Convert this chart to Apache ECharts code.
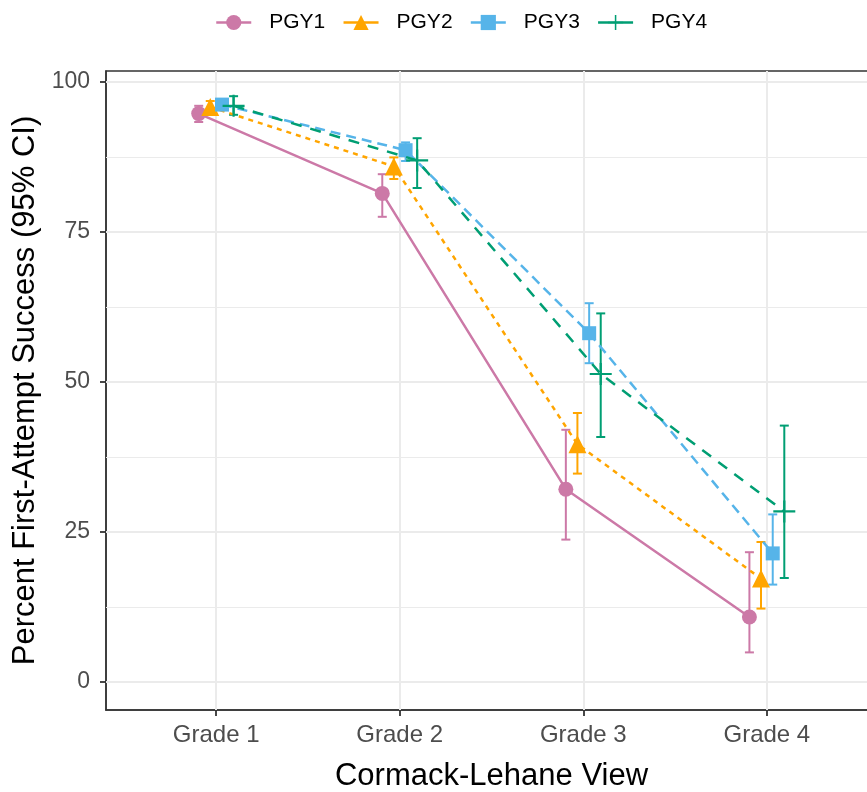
<!DOCTYPE html>
<html>
<head>
<meta charset="utf-8">
<script src="https://cdn.jsdelivr.net/npm/echarts@6/dist/echarts.min.js"></script>
<style>
html,body{margin:0;padding:0;background:#fff;}
#chart{width:867px;height:792px;}
</style>
</head>
<body>
<div id="chart"></div>
<script>
// ---- data ----
const categories = ['Grade 1', 'Grade 2', 'Grade 3', 'Grade 4'];
const groups = ['PGY1', 'PGY2', 'PGY3', 'PGY4'];
const pgy1 = [94.7, 81.4, 32.1, 10.8];
const pgy1Lo = [93.3, 77.5, 23.7, 4.9];
const pgy1Hi = [96.0, 84.6, 42.0, 21.6];
const pgy2 = [95.8, 85.9, 39.6, 17.2];
const pgy2Lo = [94.8, 83.8, 34.7, 12.2];
const pgy2Hi = [96.8, 87.4, 44.8, 23.3];
const pgy3 = [96.2, 88.6, 58.1, 21.4];
const pgy3Lo = [95.4, 86.8, 53.1, 16.2];
const pgy3Hi = [97.0, 89.9, 63.1, 27.9];
const pgy4 = [96.0, 86.9, 51.3, 28.4];
const pgy4Lo = [94.5, 82.3, 40.8, 17.3];
const pgy4Hi = [97.6, 90.6, 61.4, 42.7];
const yTicks = [0, 25, 50, 75, 100];
const yMinor = [12.5, 37.5, 62.5, 87.5];

// ---- styling ----
const values = [pgy1, pgy2, pgy3, pgy4];
const lows = [pgy1Lo, pgy2Lo, pgy3Lo, pgy4Lo];
const highs = [pgy1Hi, pgy2Hi, pgy3Hi, pgy4Hi];
const colors = ['#CC79A7', '#FFA500', '#56B4E9', '#009E73'];
const dodge = [-0.095, -0.032, 0.032, 0.095];
const crossPath = 'path://M0,9H20V11H0Z M9,0H11V20H9Z';
const symbols = ['circle', 'triangle', 'rect', crossPath];
const symbolSizes = [15, 18, 14, 22];
const lineTypes = ['solid', [5, 5], [10, 6], [11, 9]];
const catIdx = categories.map((c, i) => i + 1);

const chart = echarts.init(document.getElementById('chart'), null, {renderer: 'canvas'});

const series = [];
groups.forEach((g, k) => {
  series.push({
    name: g + ' CI',
    type: 'custom',
    z: 2,
    silent: true,
    data: catIdx.map((x, i) => [x + dodge[k], lows[k][i], highs[k][i]]),
    renderItem: function (params, api) {
      const x = api.value(0);
      const top = api.coord([x, api.value(2)]);
      const bot = api.coord([x, api.value(1)]);
      const hw = 4.5;
      const st = {stroke: colors[k], lineWidth: 2, fill: null};
      return {
        type: 'group',
        children: [
          {type: 'line', shape: {x1: top[0], y1: top[1], x2: bot[0], y2: bot[1]}, style: st},
          {type: 'line', shape: {x1: top[0] - hw, y1: top[1], x2: top[0] + hw, y2: top[1]}, style: st},
          {type: 'line', shape: {x1: bot[0] - hw, y1: bot[1], x2: bot[0] + hw, y2: bot[1]}, style: st}
        ]
      };
    }
  });
});

groups.forEach((g, k) => {
  const s = {
    name: g,
    type: 'line',
    z: 3 + k,
    data: catIdx.map((x, i) => [x + dodge[k], values[k][i]]),
    symbol: symbols[k],
    symbolSize: symbolSizes[k],
    showSymbol: true,
    itemStyle: {color: colors[k], borderWidth: 0},
    lineStyle: {color: colors[k], width: 2.5, type: lineTypes[k]},
    emphasis: {disabled: true},
    animation: false
  };
  if (k === 0) {
    const ml = [];
    yMinor.forEach(v => ml.push({yAxis: v, lineStyle: {color: '#ebebeb', width: 1}}));
    yTicks.forEach(v => ml.push({yAxis: v, lineStyle: {color: '#ebebeb', width: 2}}));
    catIdx.forEach(v => ml.push({xAxis: v, lineStyle: {color: '#ebebeb', width: 2}}));
    s.markLine = {
      silent: true,
      z: 1,
      symbol: 'none',
      label: {show: false},
      animation: false,
      lineStyle: {type: 'solid'},
      emphasis: {disabled: true},
      data: ml
    };
  }
  series.push(s);
});

chart.setOption({
  animation: false,
  backgroundColor: '#ffffff',
  textStyle: {fontFamily: 'Liberation Sans, Arial, sans-serif'},
  legend: {
    data: groups,
    left: 215,
    top: 12,
    padding: 0,
    itemWidth: 35,
    itemHeight: 19,
    itemGap: 17,
    lineStyle: {type: 'solid', width: 2.5},
    textStyle: {fontSize: 21, color: '#000000', padding: [0, 0, 0, 13], fontFamily: 'Liberation Sans, Arial, sans-serif'},
    selectedMode: false
  },
  grid: {
    left: 106, top: 71, width: 771, height: 639,
    outerBoundsMode: 'none',
    show: true, borderColor: '#333333', borderWidth: 1.5, backgroundColor: 'transparent',
    containLabel: false
  },
  xAxis: {
    type: 'value',
    min: 0.4, max: 4.6,
    name: 'Cormack-Lehane View',
    nameLocation: 'middle',
    nameGap: 51,
    nameTextStyle: {fontSize: 31, color: '#000000'},
    axisLine: {show: true, onZero: false, lineStyle: {color: '#333333', width: 1.5}},
    axisTick: {show: true, customValues: catIdx, length: 6, lineStyle: {color: '#333333', width: 1.8}},
    axisLabel: {customValues: catIdx, fontSize: 24, color: '#4d4d4d', margin: 13,
      formatter: v => categories[Math.round(v) - 1] || ''},
    splitLine: {show: false}
  },
  yAxis: {
    type: 'value',
    min: -4.7, max: 101.8,
    name: 'Percent First-Attempt Success (95% CI)',
    nameLocation: 'middle',
    nameGap: 59,
    nameTextStyle: {fontSize: 31, color: '#000000'},
    axisLine: {show: true, onZero: false, lineStyle: {color: '#333333', width: 1.5}},
    axisTick: {show: true, customValues: yTicks, length: 6, lineStyle: {color: '#333333', width: 1.8}},
    axisLabel: {customValues: yTicks, fontSize: 23, color: '#4d4d4d', margin: 16},
    splitLine: {show: false}
  },
  series: series
});
</script>
</body>
</html>
